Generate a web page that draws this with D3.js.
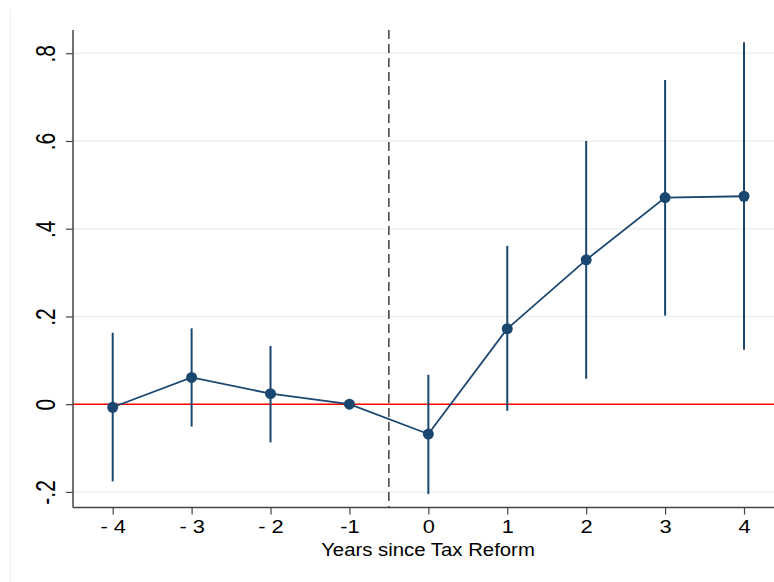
<!DOCTYPE html>
<html>
<head>
<meta charset="utf-8">
<script src="https://cdn.jsdelivr.net/npm/d3@7"></script>
<style>
  body { margin: 0; background: #fff; }
  text { font-family: "Liberation Sans", Arial, sans-serif; }
</style>
</head>
<body>
<div id="chart"></div>
<script>
// event-study estimates
const years = [-4, -3, -2, -1, 0, 1, 2, 3, 4];
const yearLabels = ['- 4', '- 3', '- 2', '-1', '0', '1', '2', '3', '4'];
const coef = [-0.007, 0.061, 0.024, 0, -0.068, 0.172, 0.329, 0.471, 0.474];
const ciLow = [-0.176, -0.051, -0.087, 0, -0.205, -0.015, 0.058, 0.202, 0.124];
const ciHigh = [0.163, 0.173, 0.133, 0, 0.067, 0.361, 0.600, 0.739, 0.825];
const yTicks = [-0.2, 0, 0.2, 0.4, 0.6, 0.8];
const yTickLabels = ['-.2', '0', '.2', '.4', '.6', '.8'];

const width = 774, height = 582;
const plot = { left: 73, right: 774, top: 30, bottom: 507.5 };
const navy = '#1a476f';

const svg = d3.select('#chart').append('svg')
  .attr('width', width).attr('height', height);

// faint outer graph region border
svg.append('line')
  .attr('x1', 10.5).attr('x2', 10.5).attr('y1', 9).attr('y2', height)
  .attr('stroke', '#eeeeee').attr('stroke-width', 1);

const x = d3.scaleLinear().domain([-4.503, 4.38]).range([plot.left, plot.right]);
const y = d3.scaleLinear().domain([-0.2355, 0.853]).range([plot.bottom, plot.top]);

// grid
svg.append('g').selectAll('line').data(yTicks).join('line')
  .attr('x1', plot.left).attr('x2', plot.right)
  .attr('y1', d => y(d)).attr('y2', d => y(d))
  .attr('stroke', '#eaf2f3').attr('stroke-width', 1.5);

// zero reference line
svg.append('line')
  .attr('x1', plot.left).attr('x2', plot.right)
  .attr('y1', y(0)).attr('y2', y(0))
  .attr('stroke', '#ff0000').attr('stroke-width', 1.5);

// reform line
svg.append('line')
  .attr('x1', x(-0.5)).attr('x2', x(-0.5))
  .attr('y1', plot.top).attr('y2', plot.bottom)
  .attr('stroke', '#222').attr('stroke-width', 1.3)
  .attr('stroke-dasharray', '9,5');

// confidence intervals
svg.append('g').selectAll('line').data(years).join('line')
  .attr('x1', d => x(d)).attr('x2', d => x(d))
  .attr('y1', (d, i) => y(ciLow[i])).attr('y2', (d, i) => y(ciHigh[i]))
  .attr('stroke', navy).attr('stroke-width', 2);

// connecting line
const line = d3.line().x(d => x(d[0])).y(d => y(d[1]));
svg.append('path')
  .datum(years.map((d, i) => [d, coef[i]]))
  .attr('d', line)
  .attr('fill', 'none').attr('stroke', navy).attr('stroke-width', 1.8);

svg.append('g').selectAll('circle').data(years).join('circle')
  .attr('cx', d => x(d)).attr('cy', (d, i) => y(coef[i]))
  .attr('r', 5.5).attr('fill', navy);

// axes
const yAxis = svg.append('g')
  .attr('transform', `translate(${plot.left},0)`)
  .call(d3.axisLeft(y).tickValues(yTicks).tickSize(7)
    .tickFormat((d, i) => yTickLabels[i]));
yAxis.select('.domain').attr('d', `M0,${plot.top}V${plot.bottom}`)
  .attr('stroke', '#444').attr('stroke-width', 1.5);
yAxis.selectAll('.tick line').attr('stroke', '#444').attr('stroke-width', 1.2);
yAxis.selectAll('.tick text')
  .attr('font-size', 21).attr('fill', '#000')
  .attr('text-anchor', 'middle')
  .attr('x', null).attr('y', null).attr('dy', null)
  .attr('transform', 'translate(-18,0) scale(1.3,1) rotate(-90)');

const xAxis = svg.append('g')
  .attr('transform', `translate(0,${plot.bottom})`)
  .call(d3.axisBottom(x).tickValues(years).tickSize(7).tickPadding(5)
    .tickFormat((d, i) => yearLabels[i]));
xAxis.select('.domain').attr('d', `M${plot.left},0H${plot.right}`)
  .attr('stroke', '#444').attr('stroke-width', 1.5);
xAxis.selectAll('.tick line').attr('stroke', '#444').attr('stroke-width', 1.2);
xAxis.selectAll('.tick text').attr('font-size', 18.5).attr('fill', '#000')
  .attr('transform', 'scale(1.18,1)');

svg.append('text')
  .attr('x', 0).attr('y', 0)
  .attr('transform', `translate(428,556) scale(1.1,1)`)
  .attr('text-anchor', 'middle').attr('font-size', 18.5).attr('fill', '#000')
  .text('Years since Tax Reform');
</script>
</body>
</html>
